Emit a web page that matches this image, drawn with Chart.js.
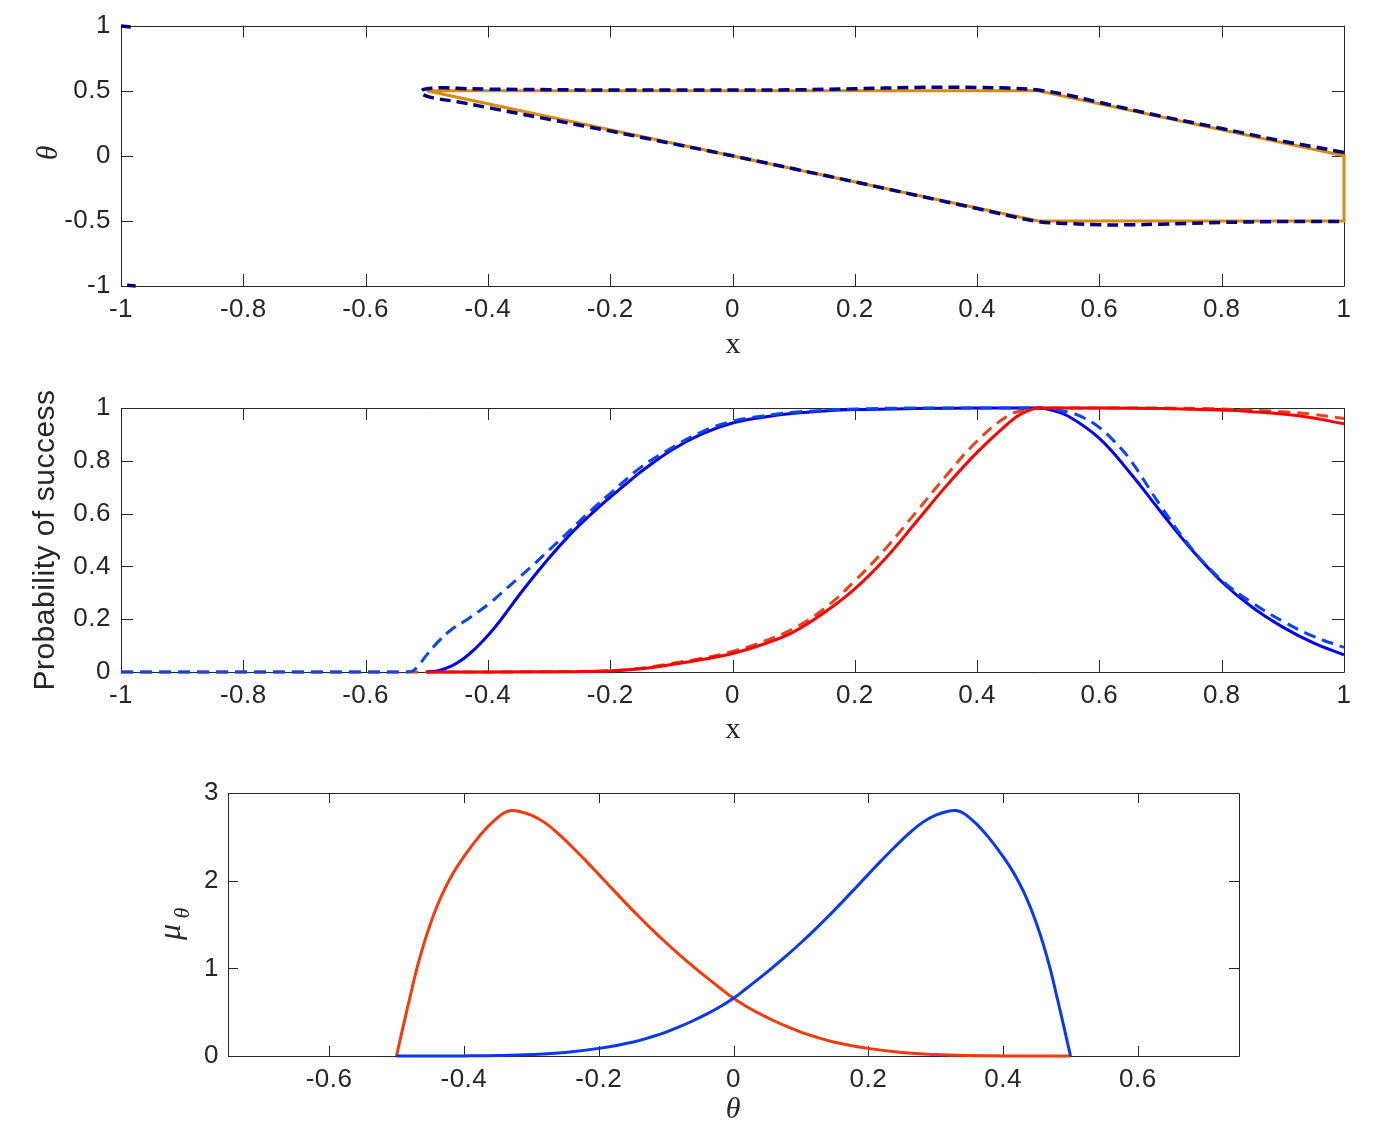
<!DOCTYPE html>
<html><head><meta charset="utf-8">
<script src="https://cdn.jsdelivr.net/npm/chart.js@4.4.1/dist/chart.umd.min.js"></script>
<style>
html,body{margin:0;padding:0;background:#fff;width:1398px;height:1126px;overflow:hidden;}
.panel{position:absolute;left:0;}
canvas{display:block;}
</style></head><body>
<div class="panel" style="top:0px"><canvas id="c1" width="1398" height="375"></canvas></div>
<div class="panel" style="top:375px"><canvas id="c2" width="1398" height="385"></canvas></div>
<div class="panel" style="top:760px"><canvas id="c3" width="1398" height="366"></canvas></div>
<script>
// ---------- Panel 1: theta vs x ----------
const p1XTicks = [-1, -0.8, -0.6, -0.4, -0.2, 0, 0.2, 0.4, 0.6, 0.8, 1];
const p1YTicks = [-1, -0.5, 0, 0.5, 1];
const shapeX = [-0.5, 0.5, 1, 1, 0.5, -0.5];
const shapeTheta = [0.5, 0.5, 0, -0.5, -0.5, 0.5];
const estX = [1.0, 0.95, 0.9, 0.8, 0.7, 0.6, 0.55, 0.5, 0.45, 0.4, 0.3, 0.2, 0.1, 0.0, -0.1, -0.2, -0.3, -0.4, -0.45, -0.47, -0.49, -0.505, -0.51, -0.505, -0.49, -0.45, -0.4, -0.3, -0.2, -0.1, 0.0, 0.1, 0.2, 0.3, 0.4, 0.5, 0.55, 0.6, 0.65, 0.7, 0.8, 0.9, 1.0];
const estTheta = [0.025, 0.07, 0.112, 0.21, 0.305, 0.41, 0.465, 0.505, 0.52, 0.525, 0.525, 0.515, 0.507, 0.505, 0.505, 0.505, 0.508, 0.512, 0.518, 0.522, 0.52, 0.51, 0.49, 0.468, 0.445, 0.415, 0.37, 0.28, 0.19, 0.095, 0.0, -0.1, -0.2, -0.303, -0.405, -0.505, -0.52, -0.53, -0.53, -0.525, -0.512, -0.505, -0.505];
const wrapTopX = [-1.0, -0.984];
const wrapTopTheta = [0.997, 0.99];
const wrapBotX = [-0.99, -0.976];
const wrapBotTheta = [-0.995, -1.0];

// ---------- Panel 2: probability of success vs x ----------
const p2XTicks = [-1, -0.8, -0.6, -0.4, -0.2, 0, 0.2, 0.4, 0.6, 0.8, 1];
const p2YTicks = [0, 0.2, 0.4, 0.6, 0.8, 1];
const blueSolidX = [-0.5, -0.48, -0.46, -0.44, -0.42, -0.4, -0.38, -0.35, -0.32, -0.3, -0.27, -0.25, -0.22, -0.2, -0.17, -0.15, -0.1, -0.05, 0, 0.05, 0.1, 0.15, 0.2, 0.3, 0.4, 0.45, 0.5, 0.52, 0.55, 0.6, 0.65, 0.7, 0.75, 0.8, 0.85, 0.9, 0.95, 1.0];
const blueSolidP = [0, 0.006, 0.022, 0.05, 0.09, 0.138, 0.194, 0.288, 0.376, 0.432, 0.51, 0.557, 0.622, 0.662, 0.72, 0.758, 0.84, 0.902, 0.943, 0.965, 0.98, 0.989, 0.994, 0.998, 1.0, 1.0, 1.0, 0.993, 0.968, 0.885, 0.755, 0.608, 0.466, 0.342, 0.245, 0.17, 0.11, 0.065];
const blueDashX = [-1, -0.6, -0.54, -0.525, -0.515, -0.5, -0.48, -0.46, -0.435, -0.4, -0.38, -0.35, -0.32, -0.3, -0.27, -0.25, -0.22, -0.2, -0.15, -0.1, -0.05, 0, 0.05, 0.1, 0.2, 0.3, 0.4, 0.47, 0.5, 0.55, 0.575, 0.6, 0.625, 0.65, 0.7, 0.75, 0.8, 0.85, 0.9, 0.95, 1.0];
const blueDashP = [0, 0, 0, 0.002, 0.02, 0.065, 0.118, 0.16, 0.197, 0.255, 0.295, 0.356, 0.418, 0.462, 0.527, 0.572, 0.636, 0.676, 0.775, 0.848, 0.91, 0.95, 0.97, 0.984, 0.996, 1.0, 1.0, 1.0, 1.0, 0.984, 0.962, 0.926, 0.872, 0.805, 0.63, 0.47, 0.348, 0.262, 0.192, 0.135, 0.093];
const redSolidX = [-0.5, -0.3, -0.2, -0.15, -0.1, -0.05, 0, 0.05, 0.1, 0.15, 0.2, 0.25, 0.3, 0.35, 0.4, 0.45, 0.47, 0.5, 0.6, 0.7, 0.8, 0.85, 0.9, 0.95, 1.0];
const redSolidP = [0, 0.001, 0.004, 0.012, 0.028, 0.047, 0.07, 0.105, 0.152, 0.225, 0.315, 0.43, 0.567, 0.706, 0.832, 0.94, 0.975, 1.0, 1.0, 0.998, 0.992, 0.986, 0.977, 0.962, 0.94];
const redDashX = [-1, -0.52, -0.3, -0.2, -0.15, -0.1, -0.05, 0, 0.05, 0.1, 0.15, 0.2, 0.25, 0.3, 0.35, 0.4, 0.45, 0.48, 0.5, 0.6, 0.7, 0.8, 0.9, 0.95, 1.0];
const redDashP = [0, 0, 0.001, 0.005, 0.014, 0.032, 0.052, 0.078, 0.115, 0.165, 0.24, 0.345, 0.467, 0.605, 0.745, 0.875, 0.97, 0.994, 1.0, 1.0, 1.0, 0.996, 0.986, 0.976, 0.96];

// ---------- Panel 3: mu_theta vs theta ----------
const p3XTicks = [-0.6, -0.4, -0.2, 0, 0.2, 0.4, 0.6];
const p3YTicks = [0, 1, 2, 3];
const muRedTheta = [-0.5, -0.49, -0.48, -0.47, -0.46, -0.45, -0.44, -0.43, -0.42, -0.41, -0.40, -0.39, -0.38, -0.37, -0.36, -0.35, -0.34, -0.33, -0.32, -0.30, -0.28, -0.26, -0.24, -0.22, -0.20, -0.18, -0.16, -0.14, -0.12, -0.10, -0.08, -0.06, -0.04, -0.02, 0, 0.02, 0.04, 0.06, 0.08, 0.10, 0.12, 0.15, 0.20, 0.25, 0.30, 0.35, 0.40, 0.45, 0.50];
const muRed = [0, 0.34, 0.67, 0.99, 1.265, 1.5, 1.705, 1.88, 2.03, 2.16, 2.275, 2.38, 2.48, 2.57, 2.65, 2.72, 2.775, 2.8, 2.795, 2.748, 2.662, 2.536, 2.39, 2.234, 2.072, 1.908, 1.746, 1.588, 1.436, 1.292, 1.154, 1.022, 0.896, 0.776, 0.658, 0.562, 0.477, 0.402, 0.334, 0.273, 0.222, 0.157, 0.087, 0.04, 0.016, 0.005, 0.001, 0, 0];
const muBlueTheta = [-0.5, -0.45, -0.40, -0.35, -0.30, -0.25, -0.20, -0.15, -0.12, -0.10, -0.08, -0.06, -0.04, -0.02, 0, 0.02, 0.04, 0.06, 0.08, 0.10, 0.12, 0.14, 0.16, 0.18, 0.20, 0.22, 0.24, 0.26, 0.28, 0.30, 0.32, 0.33, 0.34, 0.35, 0.36, 0.37, 0.38, 0.39, 0.40, 0.41, 0.42, 0.43, 0.44, 0.45, 0.46, 0.47, 0.48, 0.49, 0.5];
const muBlue = [0, 0, 0.001, 0.005, 0.016, 0.04, 0.087, 0.157, 0.222, 0.273, 0.334, 0.402, 0.477, 0.562, 0.658, 0.776, 0.896, 1.022, 1.154, 1.292, 1.436, 1.588, 1.746, 1.908, 2.072, 2.234, 2.39, 2.536, 2.662, 2.748, 2.795, 2.8, 2.775, 2.72, 2.65, 2.57, 2.48, 2.38, 2.275, 2.16, 2.03, 1.88, 1.705, 1.5, 1.265, 0.99, 0.67, 0.34, 0];

// ---------- helpers ----------
const SANS = "'Liberation Sans', Arial, Helvetica, sans-serif";
const SERIF = "'Liberation Serif', 'DejaVu Serif', 'Times New Roman', serif";
const INK = '#262626';
function pts(xs, ys) { return xs.map((x, i) => ({x: x, y: ys[i]})); }
function line(xs, ys, color, width, dash, order, extra) {
  return Object.assign({
    data: pts(xs, ys), showLine: true, borderColor: color, backgroundColor: color,
    borderWidth: width, borderDash: dash || [], pointRadius: 0, pointHoverRadius: 0,
    fill: false, order: order, clip: 6, tension: 0
  }, extra || {});
}

const framePlugin = {
  id: 'frame',
  beforeDraw(chart) { chart.ctx.letterSpacing = '0.5px'; },
  beforeDatasetsDraw(chart, args, opts) {
    const ctx = chart.ctx, a = chart.chartArea, xs = chart.scales.x, ys = chart.scales.y;
    const L = opts.tickLen || 12;
    ctx.save();
    ctx.strokeStyle = INK; ctx.lineWidth = 1;
    ctx.beginPath();
    ctx.rect(Math.round(a.left) + 0.5, Math.round(a.top) + 0.5, Math.round(a.right - a.left), Math.round(a.bottom - a.top));
    xs.ticks.forEach(t => {
      const p = Math.round(xs.getPixelForValue(t.value)) + 0.5;
      ctx.moveTo(p, a.bottom); ctx.lineTo(p, a.bottom - L);
      ctx.moveTo(p, a.top); ctx.lineTo(p, a.top + L);
    });
    ys.ticks.forEach(t => {
      const p = Math.round(ys.getPixelForValue(t.value)) + 0.5;
      ctx.moveTo(a.left, p); ctx.lineTo(a.left + L, p);
      ctx.moveTo(a.right, p); ctx.lineTo(a.right - L, p);
    });
    ctx.stroke();
    ctx.restore();
  },
  afterDraw(chart, args, opts) {
    if (opts.titles) opts.titles(chart.ctx);
  }
};

function drawText(ctx, txt, x, y, font, rot, spacing) {
  ctx.save();
  ctx.translate(x, y);
  if (rot) ctx.rotate(rot);
  ctx.font = font; ctx.fillStyle = INK;
  ctx.textAlign = 'center'; ctx.textBaseline = 'middle';
  ctx.letterSpacing = spacing || '0px';
  ctx.fillText(txt, 0, 0);
  ctx.restore();
}

function makeChart(id, g, xTicks, yTicks, datasets, titles) {
  return new Chart(document.getElementById(id), {
    type: 'scatter',
    data: {datasets: datasets},
    options: {
      responsive: false, animation: false, devicePixelRatio: 1,
      events: [],
      layout: {padding: {left: 0, right: g.W - g.right, top: g.top, bottom: 0}},
      plugins: {legend: {display: false}, tooltip: {enabled: false},
        frame: {tickLen: g.tickLen, titles: titles}},
      scales: {
        x: {
          type: 'linear', position: 'bottom', min: g.xmin, max: g.xmax,
          afterBuildTicks: s => { s.ticks = xTicks.map(v => ({value: v})); },
          afterFit: s => { s.height = g.H - g.bottom; },
          grid: {display: false, drawTicks: false}, border: {display: false},
          ticks: {padding: g.xPad, color: INK, font: {family: SANS, size: 26}, maxRotation: 0,
            autoSkip: false, callback: v => String(v)}
        },
        y: {
          type: 'linear', position: 'left', min: g.ymin, max: g.ymax,
          afterBuildTicks: s => { s.ticks = yTicks.map(v => ({value: v})); },
          afterFit: s => { s.width = g.left; },
          grid: {display: false, drawTicks: false}, border: {display: false},
          ticks: {padding: g.yPad, color: INK, font: {family: SANS, size: 26},
            autoSkip: false, callback: v => String(v)}
        }
      }
    },
    plugins: [framePlugin]
  });
}

const smooth = {tension: 0.4};

// Panel 1
makeChart('c1',
  {W: 1398, H: 375, left: 121, right: 1344, top: 22, bottom: 286, xmin: -1, xmax: 1, ymin: -1, ymax: 1, tickLen: 12, xPad: 8, yPad: 10},
  p1XTicks, p1YTicks,
  [
    line(estX, estTheta, '#00007c', 3.5, [11, 6], 1, {tension: 0.35}),
    line(wrapTopX, wrapTopTheta, '#00007c', 3.5, [11, 6], 1),
    line(wrapBotX, wrapBotTheta, '#00007c', 3.5, [11, 6], 1),
    line(shapeX, shapeTheta, '#d88a12', 3, [], 2)
  ],
  ctx => {
    drawText(ctx, 'x', 733, 345, '30px ' + SERIF, 0);
    drawText(ctx, 'θ', 49, 153, 'italic 30px ' + SERIF, -Math.PI / 2);
  });

// Panel 2
makeChart('c2',
  {W: 1398, H: 385, left: 121, right: 1344, top: 33, bottom: 297, xmin: -1, xmax: 1, ymin: 0, ymax: 1, tickLen: 12, xPad: 8, yPad: 10},
  p2XTicks, p2YTicks,
  [
    line(redSolidX, redSolidP, '#ff0000', 3, [], 1, smooth),
    line(blueDashX, blueDashP, '#0a46e6', 3, [12, 7], 2, smooth),
    line(blueSolidX, blueSolidP, '#0000f5', 3, [], 3, smooth),
    line(redDashX, redDashP, '#e8441a', 3, [12, 7], 4, smooth)
  ],
  ctx => {
    drawText(ctx, 'x', 733, 730 - 375, '30px ' + SERIF, 0);
    drawText(ctx, 'Probability of success', 46, 540 - 375, '30px ' + SANS, -Math.PI / 2, '0.5px');
  });

// Panel 3
makeChart('c3',
  {W: 1398, H: 366, left: 228, right: 1239, top: 33, bottom: 296, xmin: -0.75, xmax: 0.75, ymin: 0, ymax: 3, tickLen: 10, xPad: 8, yPad: 9},
  p3XTicks, p3YTicks,
  [
    line(muBlueTheta, muBlue, '#0a37f0', 3, [], 1, smooth),
    line(muRedTheta, muRed, '#f23a0a', 3, [], 2, smooth)
  ],
  ctx => {
    drawText(ctx, 'θ', 733, 1110 - 760, 'italic 30px ' + SERIF, 0);
    ctx.save();
    ctx.translate(172, 932 - 760);
    ctx.rotate(-Math.PI / 2);
    ctx.fillStyle = INK; ctx.textAlign = 'center'; ctx.textBaseline = 'middle';
    ctx.letterSpacing = '0px';
    ctx.font = 'italic 32px ' + SERIF;
    ctx.fillText('μ', 0, 0);
    ctx.font = 'italic 22px ' + SERIF;
    ctx.fillText('θ', 19, 11);
    ctx.restore();
  });
</script>
</body></html>
